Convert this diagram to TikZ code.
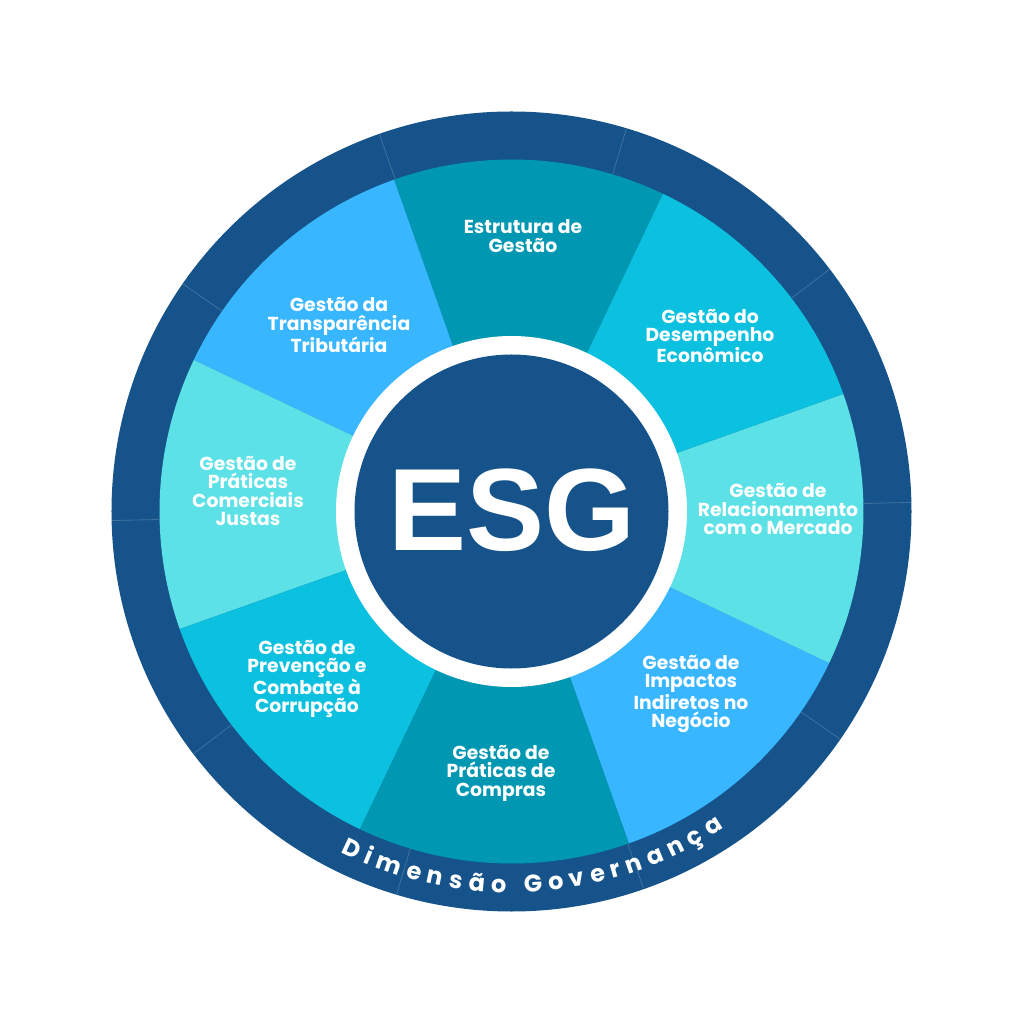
\documentclass[tikz,border=0pt]{standalone}
\usepackage{fontspec}
\newfontfamily\lblfont{Poppins}
\newfontfamily\esgfont{Liberation Sans}
\definecolor{ringblue}{HTML}{16538A}
\definecolor{cteal}{HTML}{0097B2}
\definecolor{ccyan}{HTML}{0CC0DF}
\definecolor{cturq}{HTML}{5CE1E6}
\definecolor{csky}{HTML}{38B6FF}
\newlength\chwd
\newcommand\ringfont{\lblfont\bfseries\fontsize{24}{24}\selectfont}
\def\ringtrk{6.3}
\def\ringr{376}
\begin{document}%
\gdef\ringtot{0}%
\foreach \ch in {D,i,m,e,n,s,ã,o,\ ,G,o,v,e,r,n,a,n,ç,a}{%
  \settowidth{\chwd}{\ringfont\ch}%
  \pgfmathsetmacro\ringtmp{\ringtot+\chwd+\ringtrk}%
  \xdef\ringtot{\ringtmp}%
}%
\pgfmathsetmacro\ringstart{273.6-(\ringtot-\ringtrk)/\ringr*57.29578/2}%
\xdef\ringcur{\ringstart}%
\gdef\ringlist{}%
\foreach \ch in {D,i,m,e,n,s,ã,o,\ ,G,o,v,e,r,n,a,n,ç,a}{%
  \settowidth{\chwd}{\ringfont\ch}%
  \pgfmathsetmacro\ringmid{\ringcur+\chwd/2/\ringr*57.29578}%
  \pgfmathsetmacro\ringnext{\ringcur+(\chwd+\ringtrk)/\ringr*57.29578}%
  \xdef\ringcur{\ringnext}%
  \ifx\ringlist\empty
    \xdef\ringlist{\ringmid/\ch}%
  \else
    \xdef\ringlist{\ringlist,\ringmid/\ch}%
  \fi
}%
\begin{tikzpicture}[x=1pt,y=1pt,
  lbl/.style={text=white, align=center, inner sep=0pt,
    font=\lblfont\bfseries\fontsize{18.8}{18.5}\selectfont},
  seam/.style={draw=ringblue!82!white, line width=0.8pt},
  ringchar/.style={anchor=base, inner sep=0pt, text=white, font=\ringfont}]
\useasboundingbox (-511.5,-512.5) rectangle (512.5,511.5);
\fill[white] (-511.5,-512.5) rectangle (512.5,511.5);
% outer ring
\fill[ringblue] (0,0) circle[radius=400pt];
% sectors
\foreach \a/\c in {64.5/cteal,109.5/csky,154.5/cturq,199.5/ccyan,244.5/cteal,289.5/csky,334.5/cturq,379.5/ccyan}{
  \fill[\c] (0,0) -- (\a:352pt) arc[start angle=\a, delta angle=45, radius=352pt] -- cycle;
}
% ring seams
\foreach \a in {1.3,37.3,73.3,109.3,145.3,181.3,217.3,253.3,289.3,325.3}{
  \draw[seam] (\a:352.5pt) -- (\a:399.5pt);
}
% center
\fill[white] (0,0) circle[radius=175.5pt];
\node[circle, fill=ringblue, minimum size=314pt, inner sep=0pt] (core) at (0,0) {};
\node[anchor=base, text=white, inner sep=0pt,
  font=\esgfont\bfseries\fontsize{117}{117}\selectfont] (esg) at (0.5,-39.5) {ESG};
% labels
\node[lbl] (l1) at (11.5,275.5) {Estrutura de\\Gestão};
\node[lbl] (l2) at (198.5,175.5) {Gestão do\\Desempenho\\Econômico};
\node[lbl] (l3) at (266.5,2.5) {Gestão de\\Relacionamento\\com o Mercado};
\node[lbl] (l4) at (179.5,-182.5) {Gestão de\\Impactos\\Indiretos no\\Negócio};
\node[lbl] (l5) at (-10.5,-261.5) {Gestão de\\Práticas de\\Compras};
\node[lbl] (l6) at (-204.5,-167.5) {Gestão de\\Prevenção e\\Combate à\\Corrupção};
\node[lbl] (l7) at (-263.5,20.5) {Gestão de\\Práticas\\Comerciais\\Justas};
\node[lbl] (l8) at (-172.5,186.5) {Gestão da\\Transparência\\Tributária};
% curved text
\foreach \a/\c [count=\k] in \ringlist{
  \node[ringchar, rotate=\a+90] (c\k) at (\a:381pt) {\c};
}
\end{tikzpicture}%
\end{document}
